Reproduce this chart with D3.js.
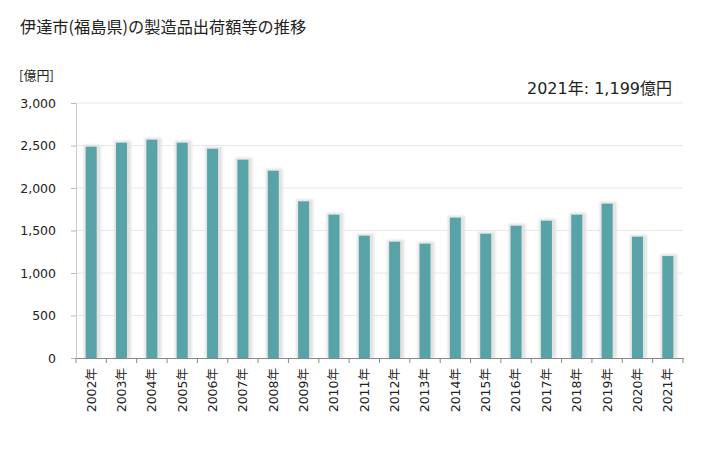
<!DOCTYPE html>
<html><head><meta charset="utf-8">
<script src="https://cdn.jsdelivr.net/npm/d3@7"></script>
<style>body{margin:0;background:#fff;} svg{display:block;} .v{font-family:"DejaVu Sans","Noto Sans CJK JP",sans-serif;} .j{font-family:"Noto Sans CJK JP",sans-serif;}</style>
</head><body>
<svg id="c" width="728" height="450"></svg>
<script>
const years = ["2002年","2003年","2004年","2005年","2006年","2007年","2008年","2009年","2010年","2011年","2012年","2013年","2014年","2015年","2016年","2017年","2018年","2019年","2020年","2021年"];
const values = [2486,2533,2568,2533,2462,2333,2203,1843,1686,1439,1368,1345,1651,1462,1556,1615,1686,1816,1427,1199];
const yTicks = [0,500,1000,1500,2000,2500,3000];
const titleText = "伊達市(福島県)の製造品出荷額等の推移";
const unitText = "[億円]";
const noteText = "2021年: 1,199億円";

const svg = d3.select("#c");
const L = 76, R = 683, T = 103, B = 358;
const x = d3.scaleBand().domain(years).range([L, R]).paddingInner(0).paddingOuter(0);
const y = d3.scaleLinear().domain([0, 3000]).range([B, T]);

const defs = svg.append("defs");
defs.append("filter").attr("id","blur").attr("x","-50%").attr("y","-10%").attr("width","200%").attr("height","120%")
  .append("feGaussianBlur").attr("stdDeviation", 0.8);

svg.append("text").attr("class","j").attr("x", 20).attr("y", 33).text(titleText)
  .attr("font-size", 16.2).attr("fill","#222");

// grid
svg.append("g").selectAll("line").data(yTicks.filter(d=>d>0)).join("line")
  .attr("x1", L).attr("x2", R).attr("y1", d=>y(d)).attr("y2", d=>y(d))
  .attr("stroke","#e8e8e8").attr("stroke-width",1);

// y axis
const ya = svg.append("g").attr("transform",`translate(${L},0)`)
  .call(d3.axisLeft(y).tickValues(yTicks).tickSize(5).tickPadding(15).tickFormat(d3.format(",")));
ya.attr("font-family",null).attr("font-size",null);
ya.select(".domain").attr("stroke","#ccc");
ya.selectAll(".tick line").attr("stroke","#bbb");
ya.selectAll("text").attr("class","v").attr("font-size",12.5).attr("fill","#222");

svg.append("text").attr("class","j").attr("x", 19).attr("y", 80).text(unitText)
  .attr("font-size", 13).attr("fill","#222");

// bars
const bw = 11;
const g = svg.append("g");
g.selectAll("rect.sh").data(values).join("rect").attr("class","sh")
  .attr("x",(d,i)=>x(years[i]) + x.bandwidth()/2 - bw/2 - 2)
  .attr("y",d=>y(d)-2).attr("width",bw+6).attr("height",d=>B-y(d)+2)
  .attr("fill","#e2e2e2").attr("filter","url(#blur)");
g.selectAll("rect.bar").data(values).join("rect").attr("class","bar")
  .attr("x",(d,i)=>x(years[i]) + x.bandwidth()/2 - bw/2)
  .attr("y",d=>y(d)).attr("width",bw).attr("height",d=>B-y(d))
  .attr("fill","#58a3a8");

// x axis
const xa = svg.append("g").attr("transform",`translate(0,${B})`)
  .call(d3.axisBottom(x).tickSize(0).tickPadding(0));
xa.attr("font-family",null).attr("font-size",null);
xa.select(".domain").attr("stroke","#888");
xa.selectAll(".tick text").attr("class","v").attr("font-size",12.5).attr("fill","#222")
  .attr("transform","translate(0,10) rotate(-90)").attr("text-anchor","end").attr("dx",0).attr("dy","0.35em").attr("y",0).attr("x",0);
// band boundary ticks
svg.append("g").selectAll("line").data(d3.range(years.length+1)).join("line")
  .attr("x1",i=>L + i*x.bandwidth()).attr("x2",i=>L + i*x.bandwidth())
  .attr("y1",B).attr("y2",B+5).attr("stroke","#888");

svg.append("text").attr("class","v").attr("x", 672).attr("y", 94).attr("text-anchor","end").text(noteText)
  .attr("font-size", 16).attr("fill","#222");
</script>
</body></html>
